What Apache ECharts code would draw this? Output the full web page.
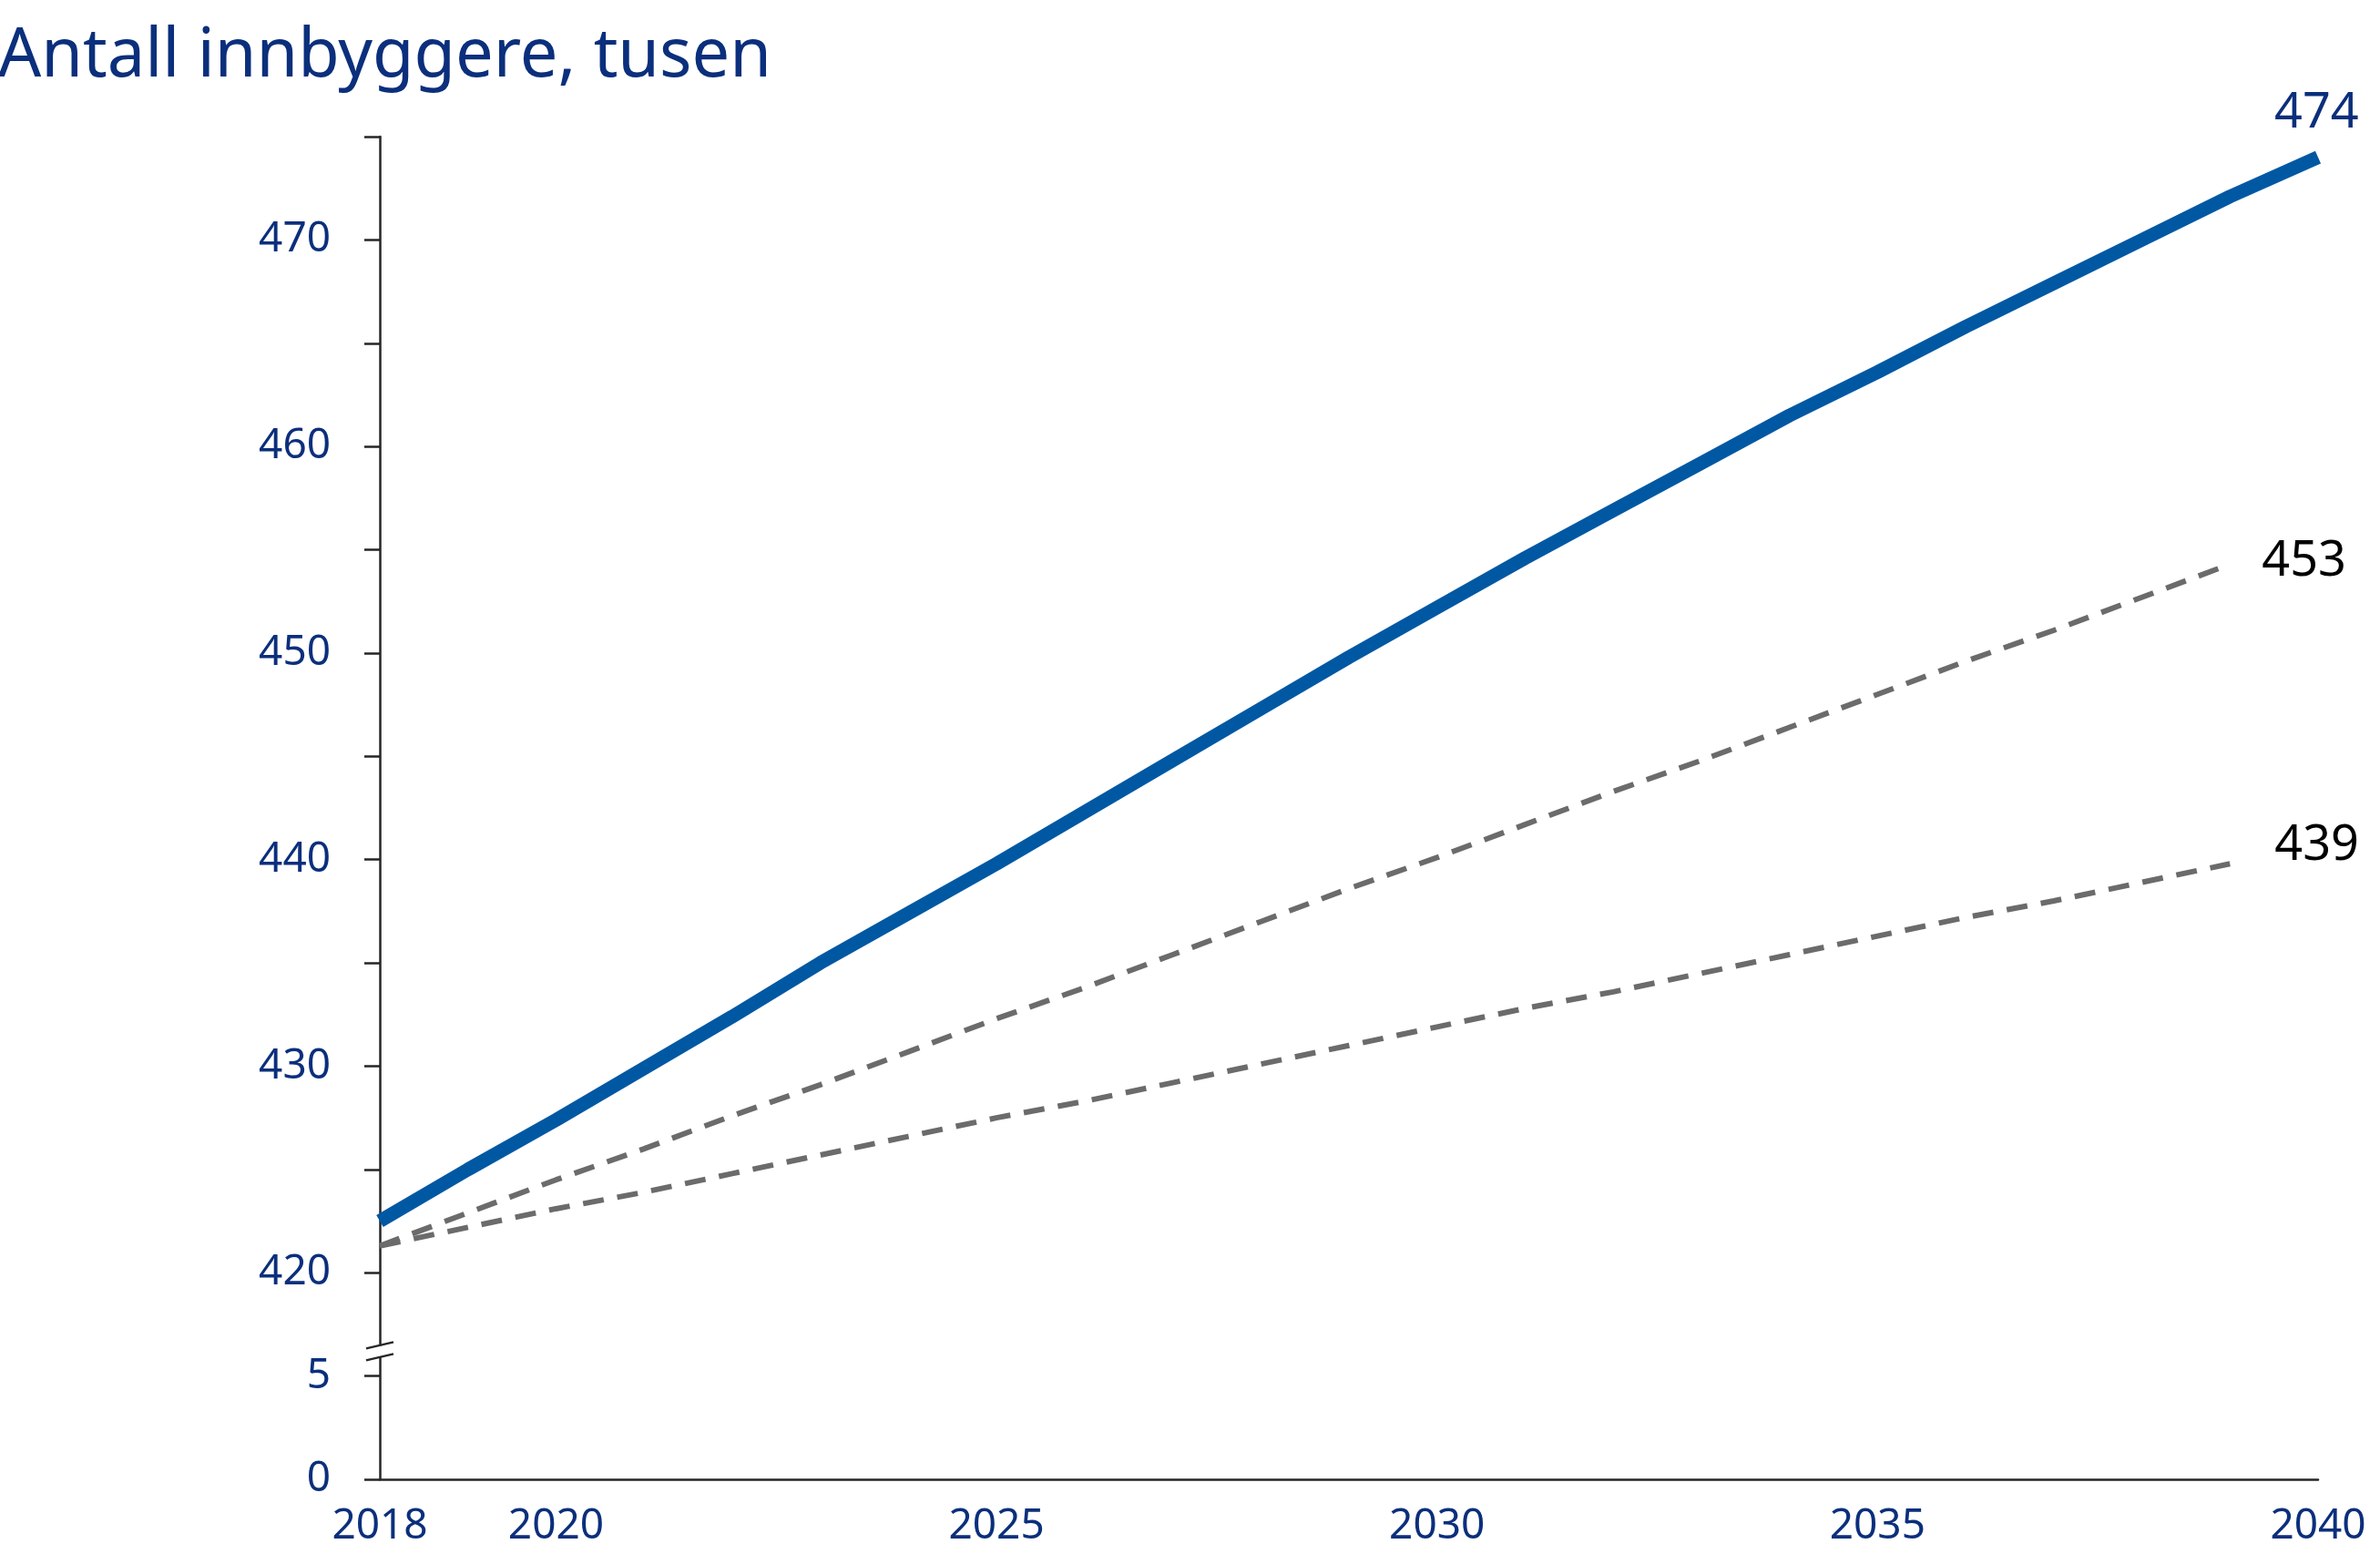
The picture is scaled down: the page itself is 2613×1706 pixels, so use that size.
<!DOCTYPE html>
<html>
<head>
<meta charset="utf-8">
<script src="https://cdn.jsdelivr.net/npm/echarts@6/dist/echarts.min.js"></script>
<style>
  html, body { margin: 0; padding: 0; background: #fff; }
  #chart { width: 2613px; height: 1706px; }
</style>
</head>
<body>
<div id="chart"></div>
<script>
// år og befolkning (tusen), lest av figuren
const years = [2018, 2019, 2020, 2021, 2022, 2023, 2024, 2025, 2026, 2027, 2028,
  2029, 2030, 2031, 2032, 2033, 2034, 2035, 2036, 2037, 2038, 2039, 2040];
const hoved = [422.5, 425.0, 427.4, 429.9, 432.4, 435.0, 437.4, 439.8, 442.3, 444.8, 447.3,
  449.8, 452.2, 454.6, 456.9, 459.2, 461.5, 463.6, 465.8, 467.9, 470.0, 472.1, 474.0];
const middel = [421.3, 422.9, 424.5, 426.0, 427.6, 429.1, 430.7, 432.3, 433.8, 435.4, 437.0,
  438.6, 440.1, 441.7, 443.3, 444.8, 446.4, 448.0, 449.6, 451.1, 452.7, 454.3];
const lav = [421.3, 422.2, 423.1, 423.9, 424.8, 425.7, 426.6, 427.5, 428.3, 429.2, 430.1,
  431.0, 431.9, 432.8, 433.6, 434.5, 435.4, 436.3, 437.2, 438.0, 438.9, 439.8];
const endLabels = ['474', '453', '439'];

// x-akse
const xTicks = [2018, 2020, 2025, 2030, 2035, 2040];
// y-akse med brudd: nedre del (0, 5) tegnes forskjøvet opp til 410
const BREAK_SHIFT = 410;
const lowTicks = [0, 5];
const highTicks = [420, 430, 440, 450, 460, 470];
const yTickValues = lowTicks.map(v => v + BREAK_SHIFT).concat(highTicks);
const yTickLabels = lowTicks.map(String).concat(highTicks.map(String));

const navy = '#0b2f7c';
const blue = '#0058a3';
const grey = '#6b6b6b';
const axisCol = '#262626';
const font = 'Noto Sans';

const pairs = arr => arr.map((v, i) => [years[i], v]);

const chart = echarts.init(document.getElementById('chart'));
const option = {
  animation: false,
  backgroundColor: '#fff',
  title: {
    text: 'Antall innbyggere, tusen',
    left: -2, top: 26, padding: 0,
    textStyle: { color: navy, fontFamily: font, fontSize: 74, fontWeight: 'normal' }
  },
  grid: { left: 417, right: 68, top: 150, bottom: 82 },
  xAxis: {
    type: 'value', min: 2018, max: 2040,
    axisLine: { lineStyle: { color: axisCol, width: 2.5 } },
    axisTick: { show: false },
    splitLine: { show: false },
    axisLabel: {
      customValues: xTicks,
      color: navy, fontFamily: font, fontSize: 46, margin: 29,
      formatter: v => String(v)
    }
  },
  yAxis: {
    type: 'value', min: 410, max: 475, interval: 5,
    axisLine: { show: true, lineStyle: { color: axisCol, width: 2.5 } },
    axisTick: { show: true, length: 17, lineStyle: { color: axisCol, width: 2.5 } },
    splitLine: { show: false },
    axisLabel: {
      customValues: yTickValues,
      color: navy, fontFamily: font, fontSize: 46, margin: 54,
      padding: [10, 0, 0, 0],
      formatter: v => yTickLabels[yTickValues.indexOf(v)]
    }
  },
  series: [
    {
      name: 'Lav', type: 'line', data: pairs(lav), showSymbol: false,
      lineStyle: { color: grey, width: 6, type: [23, 15] },
      endLabel: {
        show: true, formatter: endLabels[2], position: 'right', distance: 49, offset: [0, -20],
        color: '#000', fontFamily: font, fontSize: 54
      }
    },
    {
      name: 'Middel', type: 'line', data: pairs(middel), showSymbol: false,
      lineStyle: { color: grey, width: 6, type: [23, 15] },
      endLabel: {
        show: true, formatter: endLabels[1], position: 'right', distance: 35, offset: [0, -3],
        color: '#000', fontFamily: font, fontSize: 54
      }
    },
    {
      name: 'Hovedalternativ', type: 'line', data: pairs(hoved), showSymbol: false,
      lineStyle: { color: blue, width: 15 },
      endLabel: {
        show: true, formatter: endLabels[0], position: 'right', distance: -48, offset: [0, -48],
        color: navy, fontFamily: font, fontSize: 54
      }
    }
  ]
};
chart.setOption(option);

// bruddmerke på y-aksen
const breakAt = 416.2;
const p = chart.convertToPixel({ xAxisIndex: 0, yAxisIndex: 0 }, [2018, breakAt]);
chart.setOption({
  graphic: [
    { type: 'rect', z: 100, shape: { x: p[0] - 5, y: p[1] - 6, width: 10, height: 12 }, style: { fill: '#fff' } },
    { type: 'line', z: 101, shape: { x1: p[0] - 15, y1: p[1] - 3, x2: p[0] + 15, y2: p[1] - 10 }, style: { stroke: axisCol, lineWidth: 2.5 } },
    { type: 'line', z: 101, shape: { x1: p[0] - 15, y1: p[1] + 10, x2: p[0] + 15, y2: p[1] + 3 }, style: { stroke: axisCol, lineWidth: 2.5 } }
  ]
});
</script>
</body>
</html>
